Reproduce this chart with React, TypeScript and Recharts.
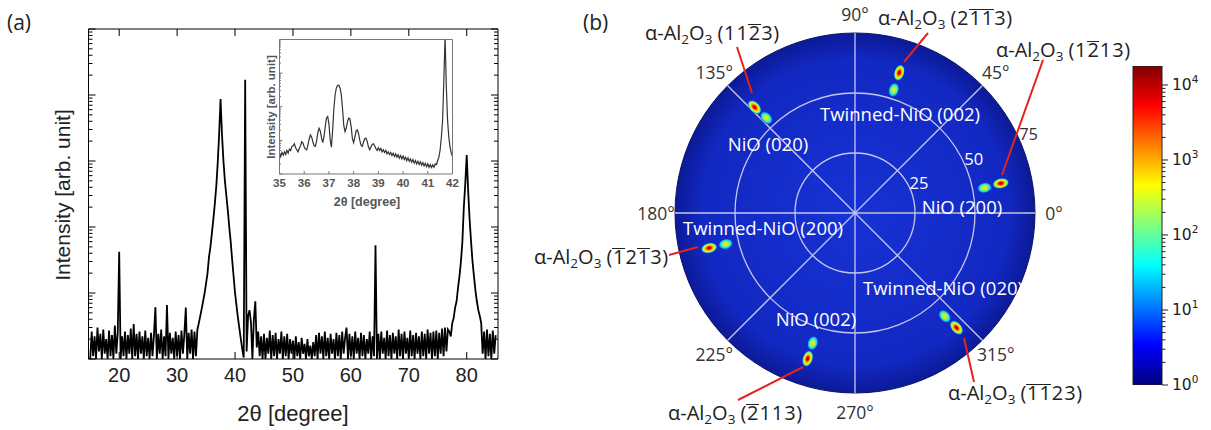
import React from 'react';
import {
  Bar,
  BarChart,
  Line,
  LineChart,
  Pie,
  PieChart,
  PolarAngleAxis,
  PolarGrid,
  RadarChart,
  Scatter,
  ScatterChart,
  XAxis,
  YAxis,
} from 'recharts';

const ARIAL = '"Liberation Sans", Arial, sans-serif';
const OPEN = '"Open Sans", "Noto Sans", sans-serif';
const DEJAVU = '"DejaVu Sans", sans-serif';

// (a) theta-2theta scan, counts every 0.25 deg from 15 to 85
const scanStart = 15;
const scanStep = 0.25;
const scanCounts = [
  1, 2.6, 1.1, 2.2, 1, 3, 1.3, 2.4, 1, 2.8, 1.2, 2, 1, 2.7, 1.1, 2.3, 1, 3.2, 1.2, 2.5,
  42, 1, 2.2, 1.1, 2.6, 1, 2.3, 1.2, 2.9, 1, 3.4, 1.1, 2.4, 1, 2.6, 1.2, 2.2, 1, 2.7, 1.1,
  2.1, 1, 2.5, 1.1, 2.3, 6.1, 1, 2.4, 1.2, 2.8, 1, 2.2, 1.1, 6.6, 1, 2.5, 1.2, 2.1, 1, 2.6,
  1.1, 2.3, 1, 2.7, 1.2, 2.4, 6.0, 1, 2.5, 1.2, 2.8, 1, 2.6, 1.1, 2.8, 3.5, 4.5, 5.8, 7.6, 10,
  14, 20, 35, 50, 80, 130, 220, 400, 900, 2500, 8700, 2500, 1000, 500, 300, 180, 100, 60, 32, 18,
  10, 6.5, 4.2, 2.9, 2, 1.4, 1.05, 17000, 1.3, 4.5, 5.5, 3.6, 1, 4, 7.5, 1.5, 2.6, 1.1, 2.2, 1,
  2.4, 1, 2.1, 1.2, 2.7, 1, 2.3, 1.1, 2.5, 1, 2.0, 1.2, 2.6, 1, 2.2, 1.1, 2.4, 1, 2.0, 1.2,
  1.9, 1, 2.2, 1.1, 1.8, 1, 2.1, 1.2, 1.7, 1, 2.0, 1.1, 1.6, 1, 1.8, 1.1, 2.3, 1, 2.5, 1.2,
  2.2, 1, 2.6, 1.1, 2.1, 1, 2.4, 1.2, 2.0, 1, 2.5, 1.1, 2.3, 1, 2.6, 1.2, 2.1, 3.0, 1, 2.4,
  1.1, 2.2, 1, 2.6, 1.2, 2.1, 1, 2.5, 1.1, 2.3, 1, 2.0, 1.2, 2.6, 1, 2.2, 1.1, 53, 1, 2.4,
  1, 2.6, 1.2, 2.1, 1, 2.7, 1.1, 2.3, 1, 2.5, 1.2, 2.2, 1, 2.8, 1.1, 2.4, 1, 2.6, 1.2, 2.1,
  1, 2.7, 1.1, 2.3, 1, 2.5, 1.2, 2.2, 1, 2.6, 1.1, 2.4, 1, 2.8, 1.2, 2.5, 1, 2.6, 1.1, 2.7,
  1, 2.5, 1.2, 2.9, 1.1, 3.0, 1.3, 2.8, 2.6, 2.2, 3.5, 4.2, 6, 7.5, 12, 18, 30, 60, 200, 450,
  1230, 350, 130, 60, 30, 18, 11, 7.5, 5.5, 4.5, 3.5, 1.2, 2.6, 1, 2.8, 1.1, 2.4, 1, 2.7, 1.2,
  2.3,
];

// inset: 35 to 42 deg, every 0.05 deg
const insetStart = 35;
const insetStep = 0.05;
const insetCounts = [
  4.17, 3.31, 4.37, 3.63, 4.57, 3.8, 5.01, 4.17, 5.5, 5.01, 6.61, 6.92, 7.94, 6.03, 5.25, 4.57, 5.75, 6.92, 9.12, 8.32,
  6.31, 5.5, 5.25, 7.24, 11, 14.5, 12.6, 9.12, 6.92, 6.61, 9.55, 16.6, 22.9, 19.1, 12, 8.51, 12.6, 25.1, 45.7, 51.3,
  31.6, 10.5, 6.31, 20, 89, 224, 363, 427, 437, 363, 229, 89, 28.2, 18.2, 22.9, 35.5, 45.7, 43.7, 25.1, 11.2,
  8.51, 12.6, 19.1, 20.4, 15.8, 10, 7.24, 6.61, 8.91, 11.2, 11.7, 9.12, 6.31, 5.25, 6.31, 7.59, 7.94, 6.92, 5.75, 5.01,
  6.03, 5.01, 5.75, 4.57, 5.25, 4.37, 5.01, 3.98, 4.57, 3.8, 4.37, 3.55, 4.17, 3.31, 3.98, 3.16, 3.72, 2.95, 3.55, 2.82,
  3.39, 2.69, 3.16, 2.51, 3.02, 2.4, 2.82, 2.24, 2.69, 2.09, 2.51, 2, 2.4, 1.91, 2.29, 1.82, 2.19, 1.74, 2.09, 1.66,
  2, 1.58, 1.91, 1.55, 1.86, 1.58, 2, 1.91, 2.51, 3.16, 5.25, 12.6, 39.8, 631, 12600, 398, 39.8, 12.6, 6.31, 4.17,
  3.31,
];

const mainTicks = [20, 30, 40, 50, 60, 70, 80];
const insetTicks = [35, 36, 37, 38, 39, 40, 41, 42];

// (b) pole figure
const angleTicks = [0, 45, 90, 135, 180, 225, 270, 315];
const angleLabels = ['0°', '45°', '90°', '135°', '180°', '225°', '270°', '315°'];
const ringTicks = [25, 50, 75];
const ringLabelAngle = 24;
const chiMax = 75;
const discData = [{ name: 'pole figure', v: 1 }];
const spotPhi = [11, 11.5, 72.5, 72.5, 133, 133.5, 193.5, 193.5, 252, 252, 311, 311.5];
const spotChi = [55, 62, 53.8, 61.3, 54.2, 60.8, 55.4, 62.5, 57, 63.8, 57, 63.8];
const spotCounts = [900, 12000, 700, 12000, 900, 12000, 400, 12000, 500, 12000, 800, 12000];
const colorbarMax = 17900;
const colorbarData = [{ name: 'scale', v: colorbarMax }];

const disc = { left: 591, width: 528, height: 430, cx: 264, cy: 213, r: 180 };

const scanData = scanCounts.map((c, i) => ({ t: scanStart + i * scanStep, c }));
const insetData = insetCounts.map((c, i) => ({ t: insetStart + i * insetStep, c }));
const angleData = angleTicks.map((angle) => ({ angle }));
const spots = spotPhi.map((phi, i) => ({
  x: spotChi[i] * Math.cos((phi * Math.PI) / 180),
  y: spotChi[i] * Math.sin((phi * Math.PI) / 180),
  phi,
  counts: spotCounts[i],
}));

function logTicks(from: number, to: number) {
  const t: number[] = [];
  for (let e = from; e < to; e++) for (let m = 1; m < 10; m++) t.push(m * Math.pow(10, e));
  t.push(Math.pow(10, to));
  return t;
}
const isDecade = (v: number) => Math.abs(Math.log10(v) - Math.round(Math.log10(v))) < 1e-9;

const BottomTick = (p: any) => (
  <g>
    <line x1={p.x} y1={p.y} x2={p.x} y2={p.y - 7} stroke="#000" />
    <text x={p.x} y={p.y + 16} textAnchor="middle" dominantBaseline="central" fontSize={20} fontFamily={ARIAL} fill="#222">
      {p.payload.value}
    </text>
  </g>
);
const TopTick = (p: any) => <line x1={p.x} y1={p.y} x2={p.x} y2={p.y + 7} stroke="#000" />;
const LeftTick = (p: any) => (
  <line x1={p.x} y1={p.y} x2={p.x + (isDecade(p.payload.value) ? 7 : 4)} y2={p.y} stroke="#000" />
);
const RightTick = (p: any) => (
  <line x1={p.x} y1={p.y} x2={p.x - (isDecade(p.payload.value) ? 7 : 4)} y2={p.y} stroke="#000" />
);
const InsetBottomTick = (p: any) => (
  <g>
    <line x1={p.x} y1={p.y} x2={p.x} y2={p.y - 3} stroke="#777" />
    <text x={p.x} y={p.y + 9} textAnchor="middle" dominantBaseline="central" fontSize={11.5} fontWeight="bold" fontFamily={ARIAL} fill="#555">
      {p.payload.value}
    </text>
  </g>
);
const InsetLeftTick = (p: any) => (
  <line x1={p.x} y1={p.y} x2={p.x + (isDecade(p.payload.value) ? 3 : 1.5)} y2={p.y} stroke="#777" />
);

const AngleTick = (p: any) => (
  <text x={p.x} y={p.y} textAnchor="middle" dominantBaseline="central" fontSize={17.5} fontFamily={OPEN} fill="#333">
    {angleLabels[angleTicks.indexOf(Number(p.payload.value))] ?? p.payload.value}
  </text>
);

const ColorbarTick = (p: any) => {
  const v = p.payload.value;
  const major = isDecade(v);
  return (
    <g>
      <line x1={p.x} y1={p.y} x2={p.x + (major ? 6 : 3.5)} y2={p.y} stroke="#222" />
      {major && (
        <text x={p.x + 10} y={p.y} dominantBaseline="central" fontSize={15.5} fontFamily={DEJAVU} fill="#222">
          10
          <tspan dy={-6} fontSize={10.5}>
            {Math.round(Math.log10(v))}
          </tspan>
        </text>
      )}
    </g>
  );
};

function Spot(p: any) {
  const hot = p.payload.counts > 5000;
  return (
    <ellipse
      cx={p.cx}
      cy={p.cy}
      rx={hot ? 8 : 7}
      ry={5}
      transform={`rotate(${-p.payload.phi} ${p.cx} ${p.cy})`}
      fill={`url(#${hot ? 'spotHot' : 'spotWarm'})`}
    />
  );
}

function AlLabel({ x, y, hkil }: { x: number; y: number; hkil: string }) {
  const digits: { d: string; bar: boolean }[] = [];
  for (let i = 0; i < hkil.length; i++) {
    if (hkil[i] === '-') {
      digits.push({ d: hkil[i + 1], bar: true });
      i++;
    } else digits.push({ d: hkil[i], bar: false });
  }
  const sub: React.CSSProperties = { fontSize: 13.5, verticalAlign: '-4px', lineHeight: 0 };
  return (
    <div
      style={{
        position: 'absolute',
        left: x,
        top: y - 13,
        height: 26,
        lineHeight: '26px',
        fontSize: 20,
        fontFamily: OPEN,
        color: '#222',
        whiteSpace: 'nowrap',
      }}
    >
      α-Al<span style={sub}>2</span>O<span style={sub}>3</span>
      {' ('}
      {digits.map((g, i) => (
        <span
          key={i}
          style={
            g.bar
              ? { display: 'inline-block', borderTop: '1.5px solid #222', lineHeight: '16px', padding: '0 0.5px' }
              : { padding: '0 0.5px' }
          }
        >
          {g.d}
        </span>
      ))}
      )
    </div>
  );
}

const alLabels = [
  { x: 645, y: 33, hkil: '11-23', from: [737, 47], to: [752, 93] },
  { x: 878, y: 18, hkil: '2-1-13', from: [928, 33], to: [904, 62] },
  { x: 996, y: 50, hkil: '1-213', from: [1043, 60], to: [1002, 175] },
  { x: 534, y: 257, hkil: '-12-13', from: [669, 255], to: [698, 247] },
  { x: 668, y: 413, hkil: '-2113', from: [738, 400], to: [803, 367] },
  { x: 948, y: 393, hkil: '-1-123', from: [974, 382], to: [964, 338] },
];
const phaseLabels = [
  { x: 900, y: 113, text: 'Twinned-NiO (002)', anchor: 'middle' },
  { x: 768, y: 143, text: 'NiO (020)', anchor: 'middle' },
  { x: 962, y: 206, text: 'NiO (200)', anchor: 'middle' },
  { x: 763, y: 227, text: 'Twinned-NiO (200)', anchor: 'middle' },
  { x: 816, y: 318, text: 'NiO (002)', anchor: 'middle' },
  { x: 863, y: 287, text: 'Twinned-NiO (020)', anchor: 'start' },
];

export default function App() {
  const pxPerDeg = disc.r / chiMax;
  const abs = (left: number, top: number): React.CSSProperties => ({ position: 'absolute', left, top });
  const ringLabelPos = (v: number) => {
    const r = v * pxPerDeg + 10;
    const a = (ringLabelAngle * Math.PI) / 180;
    return { x: disc.left + disc.cx + r * Math.cos(a), y: disc.cy - r * Math.sin(a) - 2 };
  };
  return (
    <div style={{ position: 'absolute', left: 0, top: 0, width: 1211, height: 430, background: '#fff', overflow: 'hidden' }}>
      {/* (a) main scan */}
      <div style={abs(0, 0)}>
        <LineChart width={520} height={430} data={scanData} margin={{ top: 28, right: 21, bottom: 70, left: 87.5 }}>
          <XAxis xAxisId="b" dataKey="t" type="number" domain={[14.7, 85.4]} allowDataOverflow ticks={mainTicks} interval={0}
            height={1} tickSize={0} tickMargin={0} tickLine={false} axisLine={{ stroke: '#000' }} tick={BottomTick} />
          <XAxis xAxisId="t" orientation="top" dataKey="t" type="number" domain={[14.7, 85.4]} allowDataOverflow ticks={mainTicks}
            interval={0} height={1} tickSize={0} tickMargin={0} tickLine={false} axisLine={{ stroke: '#000' }} tick={TopTick} />
          <YAxis yAxisId="l" type="number" scale="log" domain={[1, 100000]} allowDataOverflow ticks={logTicks(0, 5)} interval={0}
            width={1} tickSize={0} tickMargin={0} tickLine={false} axisLine={{ stroke: '#000' }} tick={LeftTick} />
          <YAxis yAxisId="r" orientation="right" type="number" scale="log" domain={[1, 100000]} allowDataOverflow ticks={logTicks(0, 5)}
            interval={0} width={1} tickSize={0} tickMargin={0} tickLine={false} axisLine={{ stroke: '#000' }} tick={RightTick} />
          <Line xAxisId="b" yAxisId="l" type="linear" dataKey="c" stroke="#000" strokeWidth={1.8} dot={false} isAnimationActive={false} />
          <Line xAxisId="t" yAxisId="r" type="linear" dataKey="c" stroke="none" dot={false} isAnimationActive={false} />
        </LineChart>
      </div>

      {/* (a) inset */}
      <div style={abs(230, 30)}>
        <LineChart width={240} height={190} data={insetData} margin={{ top: 8.5, right: 16.5, bottom: 45, left: 48.5 }}>
          <XAxis xAxisId="b" dataKey="t" type="number" domain={[35, 42]} allowDataOverflow ticks={insetTicks} interval={0}
            height={1} tickSize={0} tickMargin={0} tickLine={false} axisLine={{ stroke: '#777' }} tick={InsetBottomTick} />
          <XAxis xAxisId="t" orientation="top" dataKey="t" type="number" domain={[35, 42]} allowDataOverflow
            height={1} tick={false} tickLine={false} axisLine={{ stroke: '#777' }} />
          <YAxis yAxisId="l" type="number" scale="log" domain={[1, 10000]} allowDataOverflow ticks={logTicks(0, 4)} interval={0}
            width={1} tickSize={0} tickMargin={0} tickLine={false} axisLine={{ stroke: '#777' }} tick={InsetLeftTick} />
          <YAxis yAxisId="r" orientation="right" type="number" scale="log" domain={[1, 10000]} allowDataOverflow
            width={1} tick={false} tickLine={false} axisLine={{ stroke: '#777' }} />
          <Line xAxisId="b" yAxisId="l" type="linear" dataKey="c" stroke="#333" strokeWidth={1.2} dot={false} isAnimationActive={false} />
          <Line xAxisId="t" yAxisId="r" type="linear" dataKey="c" stroke="none" dot={false} isAnimationActive={false} />
        </LineChart>
      </div>

      {/* (b) disc */}
      <div style={abs(disc.left, 0)}>
        <PieChart width={disc.width} height={disc.height} margin={{ top: 0, right: 0, bottom: 0, left: 0 }}>
          <defs>
            <radialGradient id="discFill">
              <stop offset="0%" stopColor="#1732d4" />
              <stop offset="85%" stopColor="#1228c2" />
              <stop offset="100%" stopColor="#0c1a96" />
            </radialGradient>
          </defs>
          <Pie data={discData} dataKey="v" cx={disc.cx} cy={disc.cy} innerRadius={0} outerRadius={disc.r} startAngle={0} endAngle={360}
            fill="url(#discFill)" stroke="#0a1266" strokeWidth={1} isAnimationActive={false} />
        </PieChart>
      </div>

      {/* (b) polar grid and angles */}
      <div style={abs(disc.left, 0)}>
        <RadarChart width={disc.width} height={disc.height} cx={disc.cx} cy={disc.cy} outerRadius={disc.r} startAngle={0} endAngle={360}
          data={angleData} margin={{ top: 0, right: 0, bottom: 0, left: 0 }}>
          <PolarGrid gridType="circle" polarAngles={angleTicks}
            polarRadius={ringTicks.filter((r) => r < chiMax).map((r) => r * pxPerDeg)} stroke="#c4c8ee" strokeWidth={1.3} />
          <PolarAngleAxis dataKey="angle" type="number" domain={[0, 360]} ticks={angleTicks} tick={AngleTick} tickLine={false}
            axisLine={false} tickSize={19} />
        </RadarChart>
      </div>

      {/* (b) spots */}
      <div style={abs(disc.left, 0)}>
        <ScatterChart width={disc.width} height={disc.height} margin={{ top: 0, right: 0, bottom: 0, left: 0 }}>
          <defs>
            <radialGradient id="spotHot">
              <stop offset="0%" stopColor="#8a0000" />
              <stop offset="22%" stopColor="#e80000" />
              <stop offset="45%" stopColor="#ff9a00" />
              <stop offset="62%" stopColor="#f0f000" />
              <stop offset="80%" stopColor="#70ff80" />
              <stop offset="100%" stopColor="#1e5cf0" />
            </radialGradient>
            <radialGradient id="spotWarm">
              <stop offset="0%" stopColor="#f4ec10" />
              <stop offset="35%" stopColor="#c0f030" />
              <stop offset="65%" stopColor="#40f0b0" />
              <stop offset="85%" stopColor="#10a8ff" />
              <stop offset="100%" stopColor="#1a40e0" />
            </radialGradient>
          </defs>
          <XAxis type="number" dataKey="x" hide allowDataOverflow
            domain={[-disc.cx / pxPerDeg, (disc.width - disc.cx) / pxPerDeg]} />
          <YAxis type="number" dataKey="y" hide allowDataOverflow
            domain={[-(disc.height - disc.cy) / pxPerDeg, disc.cy / pxPerDeg]} />
          <Scatter data={spots} shape={Spot} isAnimationActive={false} />
        </ScatterChart>
      </div>

      {/* (b) colour bar */}
      <div style={abs(1100, 0)}>
        <BarChart width={111} height={430} data={colorbarData} barCategoryGap={0} margin={{ top: 66, right: 48, bottom: 45, left: 33 }}>
          <defs>
            <linearGradient id="jet" x1="0" y1="1" x2="0" y2="0">
              <stop offset="0%" stopColor="#00007f" />
              <stop offset="12.5%" stopColor="#0000ff" />
              <stop offset="37.5%" stopColor="#00ffff" />
              <stop offset="62.5%" stopColor="#ffff00" />
              <stop offset="87.5%" stopColor="#ff0000" />
              <stop offset="100%" stopColor="#7f0000" />
            </linearGradient>
          </defs>
          <XAxis dataKey="name" hide />
          <YAxis orientation="right" type="number" scale="log" domain={[1, colorbarMax]} allowDataOverflow ticks={logTicks(0, 4)}
            interval={0} width={1} tickSize={0} tickMargin={0} tickLine={false} axisLine={false} tick={ColorbarTick} />
          <Bar dataKey="v" fill="url(#jet)" stroke="#222" strokeWidth={1} isAnimationActive={false} />
        </BarChart>
      </div>

      {/* titles and annotations */}
      <svg width={1211} height={430} style={{ position: 'absolute', left: 0, top: 0, pointerEvents: 'none' }}>
        <text x={7} y={22} dominantBaseline="central" fontSize={21} fontFamily={OPEN} fill="#222">(a)</text>
        <text x={583} y={22} dominantBaseline="central" fontSize={21} fontFamily={OPEN} fill="#222">(b)</text>
        <text x={62} y={195} transform="rotate(-90 62 195)" textAnchor="middle" dominantBaseline="central" fontSize={21}
          fontFamily={ARIAL} fill="#222">Intensity [arb. unit]</text>
        <text x={293} y={413} textAnchor="middle" dominantBaseline="central" fontSize={22} fontFamily={ARIAL} fill="#222">
          2θ [degree]
        </text>
        <text x={270.5} y={107} transform="rotate(-90 270.5 107)" textAnchor="middle" dominantBaseline="central" fontSize={11.5}
          fontWeight="bold" fontFamily={ARIAL} fill="#555">Intensity [arb. unit]</text>
        <text x={367} y={202} textAnchor="middle" dominantBaseline="central" fontSize={12.5} fontWeight="bold" fontFamily={ARIAL}
          fill="#555">2θ [degree]</text>
        {ringTicks.map((v) => {
          const p = ringLabelPos(v);
          return (
            <text key={v} x={p.x} y={p.y} textAnchor="middle" dominantBaseline="central" fontSize={16.5} fontFamily={OPEN}
              fill={v >= chiMax ? '#333' : '#fff'}>{v}</text>
          );
        })}
        {phaseLabels.map((l) => (
          <text key={l.text + l.x} x={l.x} y={l.y} textAnchor={l.anchor as any} dominantBaseline="central" fontSize={18.5}
            fontFamily={OPEN} fill="#fff">{l.text}</text>
        ))}
        {alLabels.map((l) => (
          <line key={l.hkil} x1={l.from[0]} y1={l.from[1]} x2={l.to[0]} y2={l.to[1]} stroke="#e3241b" strokeWidth={2} />
        ))}
      </svg>
      {alLabels.map((l) => (
        <AlLabel key={l.hkil} x={l.x} y={l.y} hkil={l.hkil} />
      ))}
    </div>
  );
}
